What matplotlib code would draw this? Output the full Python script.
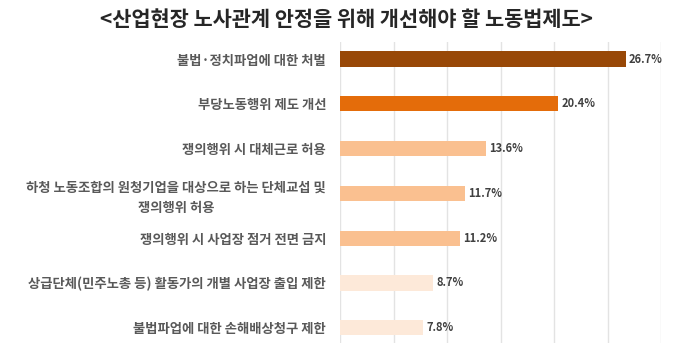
import matplotlib.pyplot as plt

plt.rcParams['font.family'] = ['Noto Sans CJK KR', 'DejaVu Sans']

title = "<산업현장 노사관계 안정을 위해 개선해야 할 노동법제도>"
categories = [
    "불법·정치파업에 대한 처벌",
    "부당노동행위 제도 개선",
    "쟁의행위 시 대체근로 허용",
    "하청 노동조합의 원청기업을 대상으로 하는 단체교섭 및\n쟁의행위 허용",
    "쟁의행위 시 사업장 점거 전면 금지",
    "상급단체(민주노총 등) 활동가의 개별 사업장 출입 제한",
    "불법파업에 대한 손해배상청구 제한",
]
values = [26.7, 20.4, 13.6, 11.7, 11.2, 8.7, 7.8]
colors = ["#984807", "#e46c0a", "#fac090", "#fac090", "#fac090", "#fde9d9", "#fde9d9"]

fig = plt.figure(figsize=(6.8, 3.61), dpi=100)
ax = fig.add_axes([340 / 680, 1 - 343 / 361, 321 / 680, 301 / 361])

y = list(range(len(values)))
ax.barh(y, values, height=0.34, color=colors, zorder=2)
ax.set_xlim(0, 30)
ax.set_ylim(6.34, -0.38)
ax.set_xticks([0, 5, 10, 15, 20, 25, 30])
ax.xaxis.grid(True, color="#e3e3e3", linewidth=1, zorder=0)
ax.tick_params(axis="x", length=0, labelbottom=False)
ax.tick_params(axis="y", length=0, pad=10)
ax.set_yticks(y)
ax.set_yticklabels(categories, fontsize=9.6, color="#595959", fontweight="bold",
                   multialignment="center", linespacing=1.6)
for s in ax.spines.values():
    s.set_visible(False)

for yi, v in zip(y, values):
    ax.text(v + 0.3, yi, f"{v:.1f}%", va="center", ha="left", fontsize=8,
            fontweight="bold", color="#404040")

fig.text(0.51, 0.945, title, ha="center", va="center", fontsize=15,
         fontweight="bold", color="#262626")

fig.savefig("out.png", dpi=100)
